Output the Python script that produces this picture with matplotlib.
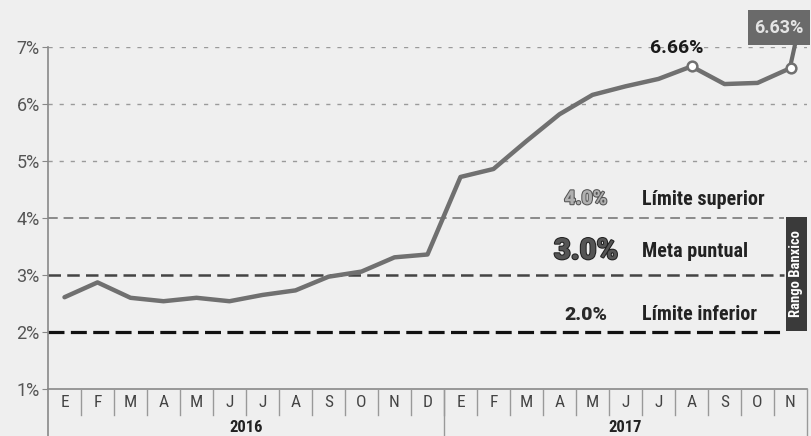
import matplotlib
matplotlib.use("Agg")
import matplotlib.pyplot as plt
from matplotlib.patches import Rectangle
from matplotlib.transforms import blended_transform_factory
import matplotlib.patheffects as pe

months = ["E", "F", "M", "A", "M", "J", "J", "A", "S", "O", "N", "D",
          "E", "F", "M", "A", "M", "J", "J", "A", "S", "O", "N"]
years = ["2016", "2017"]
year_counts = [12, 11]
inflation = [2.61, 2.87, 2.60, 2.54, 2.60, 2.54, 2.65, 2.73, 2.97, 3.06, 3.31, 3.36,
             4.72, 4.86, 5.35, 5.82, 6.16, 6.31, 6.44, 6.66, 6.35, 6.37, 6.63]
yticks = [1, 2, 3, 4, 5, 6, 7]
ytick_labels = ["1%", "2%", "3%", "4%", "5%", "6%", "7%"]
ref_values = [4.0, 3.0, 2.0]
ref_value_labels = ["4.0%", "3.0%", "2.0%"]
ref_names = ["Límite superior", "Meta puntual", "Límite inferior"]
highlight_idx = [19, 22]

W, H = 811, 436
fig = plt.figure(figsize=(W / 100, H / 100), dpi=100)
bg = "#efefef"
fig.patch.set_facecolor(bg)
plt.rcParams["font.family"] = ["Roboto", "DejaVu Sans"]

x0, x1 = 48, 807
ytop, ybot = 47, 389
ax = fig.add_axes([x0 / W, 1 - ybot / H, (x1 - x0) / W, (ybot - ytop) / H])
ax.set_facecolor(bg)
n = len(months)
ax.set_xlim(0, n)
ax.set_ylim(1, 7)
for s in ["top", "right", "bottom"]:
    ax.spines[s].set_visible(False)
ax.spines["left"].set_color("#888888")
ax.spines["left"].set_linewidth(1.2)
ax.set_xticks([])
ax.set_yticks(yticks)
ax.set_yticklabels(ytick_labels, fontsize=13, color="#555555")
ax.tick_params(axis="y", length=4, color="#888888", pad=2)

# grid lines
for v in [5, 6, 7]:
    ax.axhline(v, color="#9a9a9a", lw=1.0, ls=(0, (3, 5)), zorder=1)
ax.plot([0, 22.3], [4, 4], color="#8a8a8a", lw=1.4, ls=(0, (5, 3)), zorder=1)
ax.plot([0, 22.3], [3, 3], color="#444444", lw=1.8, ls=(0, (5, 2.5)), zorder=1)
ax.plot([0, 22.3], [2, 2], color="#111111", lw=2.3, ls=(0, (5, 2)), zorder=1)
ax.axhline(1, color="#888888", lw=1.2, zorder=1, clip_on=False)

# reference labels
ref_colors = ["#b0b0b0", "#555555", "#2a2a2a"]
ref_strokes = ["#555555", "#222222", None]
ref_sizes = [14, 21, 14]
ref_ys = [4.33, 3.42, 2.3]
name_font = ["Roboto Condensed", "Roboto", "DejaVu Sans"]
for v, vl, nm, c, sc, fs, yy in zip(ref_values, ref_value_labels, ref_names, ref_colors, ref_strokes,
                                     ref_sizes, ref_ys):
    effects = [pe.withStroke(linewidth=1.5, foreground=sc)] if sc else []
    ax.text(16.3, yy, vl, fontsize=fs, fontweight="black", color=c, ha="center", va="center", zorder=3,
            path_effects=effects)
    ax.text(18.0, yy, nm, fontsize=14.5, fontweight="bold", color="#222222", ha="left", va="center",
            zorder=3, family=name_font)

# Rango Banxico box
ax.add_patch(Rectangle((22.35, 2.02), 0.65, 2.0, facecolor="#3a3a3a", edgecolor="none", zorder=4))
ax.text(22.68, 3.02, "Rango Banxico", rotation=90, color="white", fontsize=10.5, fontweight="bold",
        ha="center", va="center", zorder=5, family=name_font)

# series line
xs = [i + 0.5 for i in range(n)]
ax.plot(xs, inflation, color="#707070", lw=3.2, zorder=6, solid_capstyle="round", clip_on=False)
for i in highlight_idx:
    ax.plot(xs[i], inflation[i], "o", ms=7, mfc="white", mec="#707070", mew=1.8, zorder=7, clip_on=False)

# annotations
ax.text(xs[19] - 0.45, inflation[19] + 0.16, "6.66%", fontsize=14, fontweight="bold", color="#1a1a1a",
        ha="center", va="bottom", zorder=8)
ax.plot([xs[22], xs[22] + 0.14], [inflation[22] + 0.05, 7.05], color="#6a6a6a", lw=3,
        zorder=6, clip_on=False)
ax.add_patch(Rectangle((21.2, 7.03), 1.9, 0.62, facecolor="#6a6a6a", edgecolor="none", zorder=7,
                       clip_on=False))
ax.text(22.15, 7.34, "6.63%", fontsize=13, fontweight="bold", color="#e4e4e4",
        ha="center", va="center", zorder=8, clip_on=False)

# month boxes
tr = blended_transform_factory(ax.transData, ax.transAxes)
span = ybot - ytop
box_bot = -(415 - ybot) / span
for i, m in enumerate(months):
    ax.text(i + 0.5, box_bot / 2, m, transform=tr, ha="center", va="center", fontsize=12.5,
            color="#444444", clip_on=False, family=name_font)
    if 0 < i:
        ax.plot([i, i], [0, box_bot], transform=tr, color="#999999", lw=1, clip_on=False)
ax.plot([n, n], [0, -(436 - ybot) / span], transform=tr, color="#999999", lw=1, clip_on=False)
ax.plot([0, 0], [0, -(436 - ybot) / span], transform=tr, color="#888888", lw=1.2, clip_on=False)
start = 0
for yr, c in zip(years, year_counts):
    ax.text(start + c / 2, -(427 - ybot) / span, yr, transform=tr, ha="center", va="center",
            fontsize=12, fontweight="bold", color="#222222", clip_on=False, family=name_font)
    if start > 0:
        ax.plot([start, start], [0, -(436 - ybot) / span], transform=tr, color="#999999", lw=1,
                clip_on=False)
    start += c

fig.savefig("out.png", dpi=100, facecolor=bg)
